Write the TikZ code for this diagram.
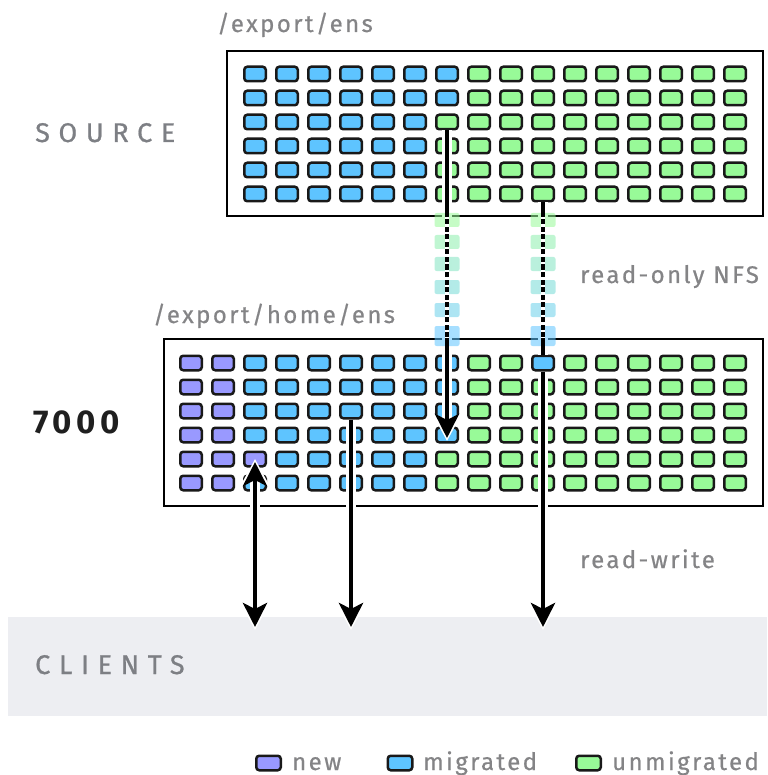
\documentclass[tikz,border=0pt]{standalone}
\usepackage{fontspec}
\setmainfont{Fira Sans}
\newfontfamily\labfont[LetterSpace=10,FakeBold=0.6]{Fira Sans}
\newfontfamily\capfont[LetterSpace=32,FakeBold=0.8]{Fira Sans}
\newfontfamily\numfont[LetterSpace=14]{Fira Sans}
\usetikzlibrary{arrows.meta,calc}
\definecolor{newc}{RGB}{153,153,255}
\definecolor{migc}{RGB}{94,196,255}
\definecolor{unmc}{RGB}{152,250,152}
\definecolor{txtgray}{RGB}{132,132,134}
\definecolor{capgray}{RGB}{125,127,132}
\definecolor{bandgray}{RGB}{237,238,242}
\begin{document}
\begin{tikzpicture}[x=1pt,y=-1pt,
  cell/.style={draw=black!90, line width=2.5pt, rounded corners=3pt, minimum width=21.5pt, minimum height=14.5pt, inner sep=0pt},
  legcell/.style={cell, minimum width=24.5pt},
  boxline/.style={draw=black, line width=2pt, inner sep=0pt},
  halo/.style={white, line width=9.5pt},
  hahead/.style={-{Stealth[length=28pt,width=30pt,inset=7pt]}, shorten >=-3pt},
  haboth/.style={{Stealth[length=28pt,width=30pt,inset=7pt]}-{Stealth[length=28pt,width=30pt,inset=7pt]}, shorten >=-3pt, shorten <=-3pt},
  arr/.style={black, line width=4.5pt},
  ahead/.style={-{Stealth[length=24pt,width=24pt,inset=6pt]}},
  aboth/.style={{Stealth[length=24pt,width=24pt,inset=6pt]}-{Stealth[length=24pt,width=24pt,inset=6pt]}},
  wdash/.style={white, line width=4.8pt, dash pattern=on 2.5pt off 5pt},
  label/.style={font=\labfont\fontsize{24}{28}\selectfont, text=txtgray, inner sep=0pt, anchor=base west},
  caplabel/.style={font=\capfont\fontsize{27}{30}\selectfont, text=capgray, inner sep=0pt, anchor=base west},
]
\useasboundingbox (0,0) rectangle (767,775);

% clients band
\node[fill=bandgray, minimum width=759pt, minimum height=99pt, inner sep=0pt, anchor=north west] (clients) at (8,617) {};

% boxes
\node[boxline, minimum width=536pt, minimum height=165pt] (srcbox) at (495,133.5) {};
\node[boxline, minimum width=599pt, minimum height=167pt] (dstbox) at (463.5,422.5) {};

% source cells
\foreach \r in {0,...,5}{
  \foreach \i in {0,...,15}{
    \pgfmathtruncatemacro\c{(\i<6 || (\i==6 && \r<2)) ? 1 : 2}
    \ifnum\c=1 \def\col{migc}\else\def\col{unmc}\fi
    \node[cell, fill=\col] (src-\r-\i) at ({255+32*\i},{74+24*\r}) {};
  }
}
% 7000 cells
\foreach \r in {0,...,5}{
  \foreach \j in {0,...,17}{
    \pgfmathtruncatemacro\c{(\j<2 || (\j==2 && \r==4)) ? 0 : ((\j<8 || (\j==8 && \r<4) || (\j==11 && \r==0)) ? 1 : 2)}
    \ifcase\c \def\col{newc}\or \def\col{migc}\else \def\col{unmc}\fi
    \node[cell, fill=\col] (dst-\r-\j) at ({191+32*\j},{363+24*\r}) {};
  }
}

% named end points
\coordinate (tipA) at ($(dst-3-8.center)+(0,3)$);
\coordinate (tipB) at ($(dst-4-2.center)+(0,3)$);
\coordinate (c1) at ($(clients.north -| dst-4-2.center)+(0,10)$);
\coordinate (c2) at ($(clients.north -| dst-2-5.center)+(0,10)$);
\coordinate (c3) at ($(clients.north -| dst-0-11.center)+(0,10)$);

% halos
\draw[halo, hahead] (src-2-6.south) -- (tipA);
\draw[halo] (src-5-9.south) -- (dst-0-11.north);
\draw[halo, haboth] (tipB) -- (c1);
\draw[halo, hahead] (dst-2-5.south) -- (c2);
\draw[halo, hahead] (dst-0-11.south) -- (c3);

% transfer bands
\foreach \x in {447,543}{
  \foreach \ya/\yb/\p in {213/227/100, 235/249/80, 257/271/60, 280/294/40, 303/317/20, 326/346/0}{
    \fill[unmc!\p!migc, opacity=0.55, rounded corners=2pt] (\x-12.5,\ya) rectangle (\x+12.5,\yb);
  }
}

% arrows
\draw[arr, ahead] (src-2-6.south) -- (tipA);
\draw[arr] (src-5-9.south) -- (dst-0-11.north);
\draw[arr, aboth] (tipB) -- (c1);
\draw[arr, ahead] (dst-2-5.south) -- (c2);
\draw[arr, ahead] (dst-0-11.south) -- (c3);

% dashed (NFS) parts
\draw[wdash] (srcbox.south -| src-2-6.south) -- (dstbox.north -| src-2-6.south);
\draw[wdash] (srcbox.south -| src-5-9.south) -- (dstbox.north -| src-5-9.south);

% labels
\node[label] (lsrcpath) at (217,32) {/export/ens};
\node[label] (ldstpath) at (153,323) {/export/home/ens};
\node[label] (lro) at (580,283) {read-only NFS};
\node[label] (lrw) at (580,568) {read-write};
\node[caplabel] (lsource) at (35,142) {SOURCE};
\node[caplabel] (lclients) at (35,674) {CLIENTS};
\node[font=\numfont\bfseries\fontsize{33}{36}\selectfont, text=black!88, inner sep=0pt, anchor=base west] (l7000) at (33,433) {7000};

% legend
\node[legcell, fill=newc] (kn) at (268.5,763) {};
\node[label] (knl) at (292,770) {new};
\node[legcell, fill=migc] (km) at (400,763) {};
\node[label] (kml) at (423,770) {migrated};
\node[legcell, fill=unmc] (ku) at (588.5,763) {};
\node[label] (kul) at (612,770) {unmigrated};
\end{tikzpicture}
\end{document}
